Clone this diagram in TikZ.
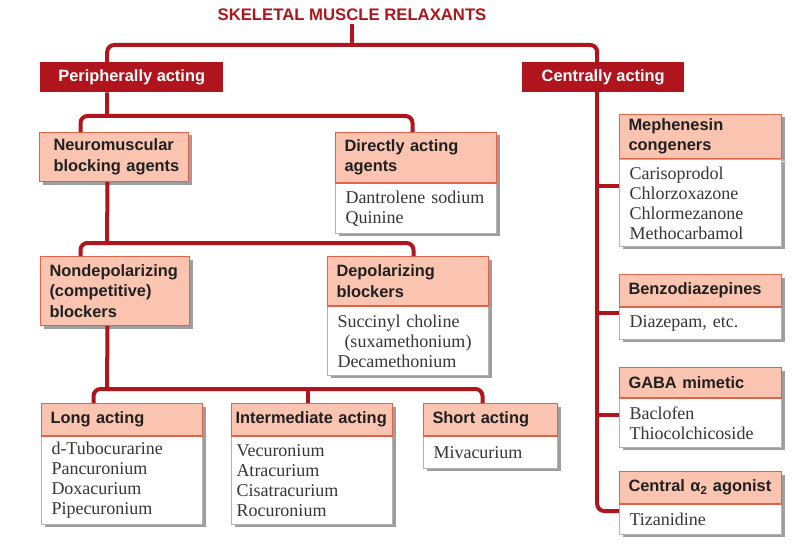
\documentclass[tikz,border=0pt]{standalone}
\usepackage{fontspec}
\setmainfont{Liberation Serif}
\setsansfont{Liberation Sans}
\usetikzlibrary{positioning,shadows}
\definecolor{smrred}{RGB}{176,20,28}
\definecolor{smrsalmon}{RGB}{250,196,176}
\definecolor{smredge}{RGB}{224,100,74}
\definecolor{smrtext}{RGB}{32,32,32}
\newcommand{\hdrfont}{\fontsize{16.4}{20.5}\selectfont\sffamily\bfseries}
\newcommand{\bodyfont}{\fontsize{18}{20}\selectfont}
\tikzset{
	boxshadow/.style={drop shadow={shadow xshift=3pt,shadow yshift=-3pt,fill=black!38,opacity=1}},
	link/.style={draw=smrred,line width=4pt},
	elbow/.style={rounded corners=7pt},
	group/.style={fill=smrred,text=white,font=\hdrfont,anchor=north west,inner sep=0pt,minimum height=30pt},
	hdr/.style 2 args={draw=smredge,fill=smrsalmon,line width=1pt,text=smrtext,font=\hdrfont,
		anchor=north west,align=left,inner xsep=9pt,inner ysep=0pt,
		minimum width=#1pt,text width=#1pt-18pt,minimum height=#2pt,boxshadow},
	body/.style 2 args={draw=black!30,fill=white,line width=.8pt,text=smrtext!90,font=\bodyfont,
		align=left,inner xsep=10pt,inner ysep=0pt,
		minimum width=#1pt,text width=#1pt-20pt,minimum height=#2pt,boxshadow}
}
\begin{document}
\begin{tikzpicture}[x=1pt,y=-1pt]
	\fill[white] (0,0) rectangle (802,556);
	\useasboundingbox (0,0) rectangle (802,556);
	\node[font=\fontsize{16.7}{20}\selectfont\sffamily\bfseries,text=smrred] (title) at (352,15) {SKELETAL MUSCLE RELAXANTS};
	\node[group,minimum width=183pt] (peri) at (40,62) {Peripherally acting};
	\node[group,minimum width=162pt] (cent) at (522,62) {Centrally acting};
	% peripheral side
	\node[hdr={149}{49}] (nmb) at (39,132) {\hspace*{5pt}Neuromuscular\\\hspace*{5pt}blocking agents};
	\node[hdr={161}{50}] (dir) at (335,132) {Directly acting\\agents};
	\node[body={161}{50},below=0pt of dir] (dirB) {Dantrolene sodium\\Quinine};
	\node[hdr={149}{69}] (nondep) at (40,256) {Nondepolarizing\\(competitive)\\blockers};
	\node[hdr={161}{49}] (depol) at (327,256) {Depolarizing\\blockers};
	\node[body={161}{69},below=0pt of depol] (depolB) {Succinyl choline\\\hspace*{7pt}(suxamethonium)\\Decamethonium};
	\node[hdr={161}{32}] (long) at (41,403) {Long acting};
	\node[body={161}{88},below=0pt of long] (longB) {d-Tubocurarine\\Pancuronium\\Doxacurium\\Pipecuronium};
	\node[hdr={161}{32},inner xsep=4pt,text width=153pt] (inter) at (231,403) {Intermediate acting};
	\node[body={161}{88},inner xsep=5pt,text width=151pt,below=0pt of inter] (interB) {Vecuronium\\Atracurium\\Cisatracurium\\Rocuronium};
	\node[hdr={134}{32}] (short) at (423,403) {Short acting};
	\node[body={134}{32},below=0pt of short] (shortB) {Mivacurium};
	% central side
	\node[hdr={162}{44}] (meph) at (619,114) {Mephenesin\\congeners};
	\node[body={162}{87},below=0pt of meph] (mephB) {Carisoprodol\\Chlorzoxazone\\Chlormezanone\\Methocarbamol};
	\node[hdr={162}{32}] (benzo) at (619,274) {Benzodiazepines};
	\node[body={162}{32},below=0pt of benzo] (benzoB) {Diazepam, etc.};
	\node[hdr={162}{30}] (gaba) at (619,367) {GABA mimetic};
	\node[body={162}{49},below=0pt of gaba] (gabaB) {Baclofen\\Thiocolchicoside};
	\node[hdr={162}{32}] (alpha) at (619,471) {Central α\textsubscript{2} agonist};
	\node[body={162}{30},below=0pt of alpha] (alphaB) {Tizanidine};
	\foreach \h in {dir,depol,long,inter,short,meph,benzo,gaba,alpha}
		\draw[smredge,line width=1pt] (\h.south west) -- (\h.south east);
	% connectors
	\coordinate (j0) at (352,45);
	\coordinate (j1) at (107,116);
	\coordinate (j2) at (107,243);
	\coordinate (j3) at (107,389);
	\coordinate (sp) at ([xshift=-6pt]cent.south);
	\draw[link] (title) -- (j0);
	\draw[link,elbow] ([xshift=-24.5pt]peri.north) |- (j0) -| ([xshift=-6pt]cent.north);
	\draw[link] ([xshift=-24.5pt]peri.south) -- (j1);
	\draw[link,elbow] ([xshift=-33.5pt]nmb.north) |- (j1) -| ([xshift=-3.5pt]dir.north);
	\draw[link] ([xshift=-6.5pt]nmb.south) -- (j2);
	\draw[link,elbow] ([xshift=-34.5pt]nondep.north) |- (j2) -| ([xshift=5.5pt]depol.north);
	\draw[link] ([xshift=-7.5pt]nondep.south) -- (j3);
	\draw[link,elbow] ([xshift=-28.5pt]long.north) |- (j3) -| ([xshift=-8pt]short.north);
	\draw[link] ([xshift=-4.5pt]inter.north) |- (j3);
	\draw[link,elbow] (sp) |- ([yshift=-7pt]alphaB.north west);
	\draw[link] ([yshift=-27pt]mephB.north west) -| (sp);
	\draw[link] ([yshift=-6pt]benzoB.north west) -| (sp);
	\draw[link] ([yshift=-17pt]gabaB.north west) -| (sp);
\end{tikzpicture}
\end{document}
